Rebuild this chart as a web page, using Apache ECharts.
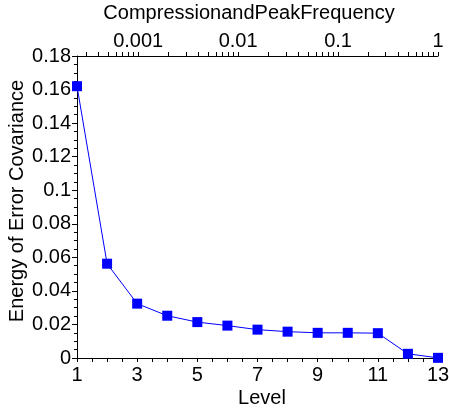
<!DOCTYPE html>
<html>
<head>
<meta charset="utf-8">
<script src="https://cdn.jsdelivr.net/npm/echarts@6/dist/echarts.min.js"></script>
<style>
html,body{margin:0;padding:0;background:#fff;}
#c{width:449px;height:409px;}
</style>
</head>
<body>
<div id="c"></div>
<script>
// Data
const levels = [1, 2, 3, 4, 5, 6, 7, 8, 9, 10, 11, 12, 13];
const energy = [0.162, 0.0562, 0.0324, 0.0252, 0.0214, 0.0193, 0.0169, 0.0157, 0.0150, 0.0150, 0.0148, 0.0025, 0.0001];
const topMin = Math.pow(2, -12);
const topMax = 1;
const topLabelValues = [0.001, 0.01, 0.1, 1];
const topTickValues = [
  0.0003, 0.0004, 0.0005, 0.0006, 0.0007, 0.0008, 0.0009, 0.001,
  0.002, 0.003, 0.004, 0.005, 0.006, 0.007, 0.008, 0.009, 0.01,
  0.02, 0.03, 0.04, 0.05, 0.06, 0.07, 0.08, 0.09, 0.1,
  0.2, 0.3, 0.4, 0.5, 0.6, 0.7, 0.8, 0.9, 1
];
const xTitle = 'Level';
const yTitle = 'Energy of Error Covariance';
const topTitle = 'CompressionandPeakFrequency';

const FONT = 'Liberation Sans, Arial, sans-serif';
const FS = 20;
const lineStyle = { color: '#000', width: 1 };
const chart = echarts.init(document.getElementById('c'), null, { renderer: 'canvas' });
chart.setOption({
  animation: false,
  backgroundColor: '#fff',
  grid: { left: 77, right: 11, top: 56, bottom: 51, containLabel: false, outerBoundsMode: 'none' },
  xAxis: [
    {
      type: 'value', position: 'bottom', min: 1, max: 13, interval: 2,
      name: xTitle, nameLocation: 'middle', nameGap: 30, nameMoveOverlap: false,
      nameTextStyle: { fontFamily: FONT, fontSize: FS, color: '#000', padding: [0, 0, 0, 9] },
      axisLine: { show: true, onZero: false, lineStyle },
      axisTick: { show: true, inside: false, length: 4, lineStyle },
      minorTick: { show: true, splitNumber: 4, length: 4, lineStyle },
      axisLabel: { fontFamily: FONT, fontSize: FS, color: '#000', margin: 7 },
      splitLine: { show: false }, minorSplitLine: { show: false }
    },
    {
      type: 'log', position: 'top', min: topMin, max: topMax, logBase: 10,
      name: topTitle, nameLocation: 'middle', nameGap: 33, nameMoveOverlap: false,
      nameTextStyle: { fontFamily: FONT, fontSize: FS, color: '#000', padding: [0, 17, 0, 0] },
      axisLine: { show: true, onZero: false, lineStyle },
      axisTick: { show: true, inside: false, length: 4, lineStyle, customValues: topTickValues },
      axisLabel: { fontFamily: FONT, fontSize: FS, color: '#000', margin: 5, customValues: topLabelValues },
      splitLine: { show: false }, minorSplitLine: { show: false }
    }
  ],
  yAxis: {
    type: 'value', min: 0, max: 0.18, interval: 0.02,
    name: yTitle, nameLocation: 'middle', nameGap: 50, nameMoveOverlap: false,
    nameTextStyle: { fontFamily: FONT, fontSize: FS, color: '#000', padding: [0, 0, 0, 12] },
    axisLine: { show: true, onZero: false, lineStyle },
    axisTick: { show: true, inside: false, length: 5, lineStyle },
    minorTick: { show: true, splitNumber: 4, length: 3, lineStyle },
    axisLabel: { fontFamily: FONT, fontSize: FS, color: '#000', margin: 6 },
    splitLine: { show: false }, minorSplitLine: { show: false }
  },
  series: [{
    type: 'line', xAxisIndex: 0, yAxisIndex: 0,
    data: levels.map((l, i) => [l, energy[i]]),
    symbol: 'rect', symbolSize: 10,
    itemStyle: { color: '#0000ff' },
    lineStyle: { color: '#0000ff', width: 1 },
    clip: false
  }]
});
</script>
</body>
</html>
